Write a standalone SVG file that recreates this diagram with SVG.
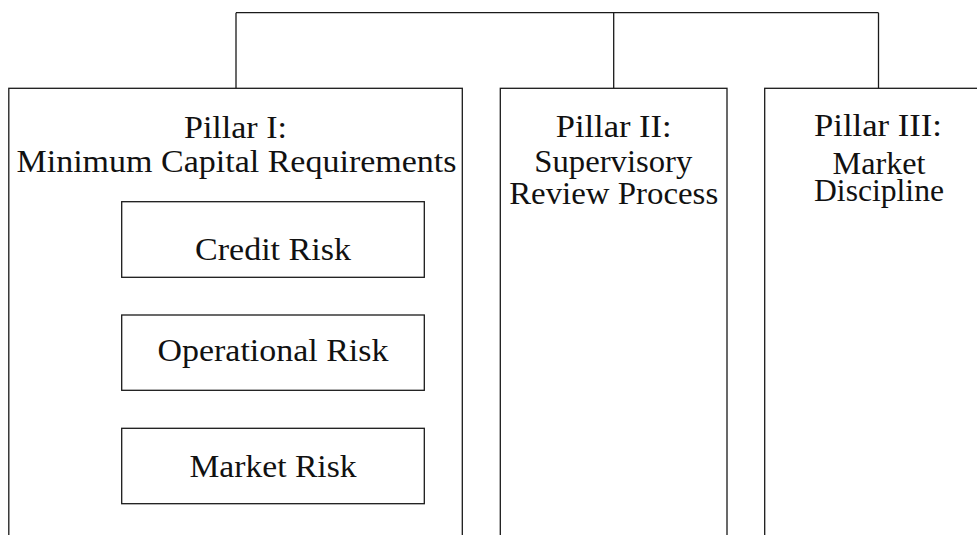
<svg xmlns="http://www.w3.org/2000/svg" width="977" height="535" viewBox="0 0 977 535">
<style>
.box{fill:#fff;stroke:#1a1a1a;stroke-width:1.3}
.con{fill:none;stroke:#1a1a1a;stroke-width:1.3}
.t{font-family:"Liberation Serif","Times New Roman",serif;font-size:31px;fill:#111;text-anchor:middle}
</style>
<rect width="977" height="535" fill="#fff"/>
<g id="connectors">
<path class="con" d="M236,12.7 H878.5 M236,12.7 V88.3 M613.7,12.7 V88.3 M878.5,12.7 V88.3"/>
<path class="con" d="M84.3,239.3 V465.7 M84.3,239.3 H121.7 M84.3,352.3 H121.7 M84.3,465.7 H121.7"/>
</g>
<g id="pillar1">
<rect class="box" x="8.8" y="88.3" width="453.5" height="460"/>
<text class="t" x="235.5" y="137.5" textLength="103" lengthAdjust="spacingAndGlyphs">Pillar I:</text>
<text class="t" x="236.5" y="171.5" textLength="440" lengthAdjust="spacingAndGlyphs">Minimum Capital Requirements</text>
</g>
<g id="credit">
<rect class="box" x="121.7" y="201.7" width="302.6" height="75.6"/>
<text class="t" x="273" y="260" textLength="156" lengthAdjust="spacingAndGlyphs">Credit Risk</text>
</g>
<g id="operational">
<rect class="box" x="121.7" y="315" width="302.6" height="75.3"/>
<text class="t" x="273" y="361" textLength="231" lengthAdjust="spacingAndGlyphs">Operational Risk</text>
</g>
<g id="market">
<rect class="box" x="121.7" y="428.3" width="302.6" height="75.4"/>
<text class="t" x="273" y="476.7" textLength="167" lengthAdjust="spacingAndGlyphs">Market Risk</text>
</g>
<g id="pillar2">
<rect class="box" x="500.3" y="88.3" width="226.7" height="460"/>
<text class="t" x="613.7" y="136.7" textLength="116" lengthAdjust="spacingAndGlyphs">Pillar II:</text>
<text class="t" x="613.3" y="171.5" textLength="158" lengthAdjust="spacingAndGlyphs">Supervisory</text>
<text class="t" x="613.7" y="204" textLength="209" lengthAdjust="spacingAndGlyphs">Review Process</text>
</g>
<g id="pillar3">
<rect class="box" x="764.7" y="88.3" width="227" height="460"/>
<text class="t" x="878" y="136" textLength="128" lengthAdjust="spacingAndGlyphs">Pillar III:</text>
<text class="t" x="879" y="174" textLength="93" lengthAdjust="spacingAndGlyphs">Market</text>
<text class="t" x="879" y="200.5" textLength="130" lengthAdjust="spacingAndGlyphs">Discipline</text>
</g>
</svg>
